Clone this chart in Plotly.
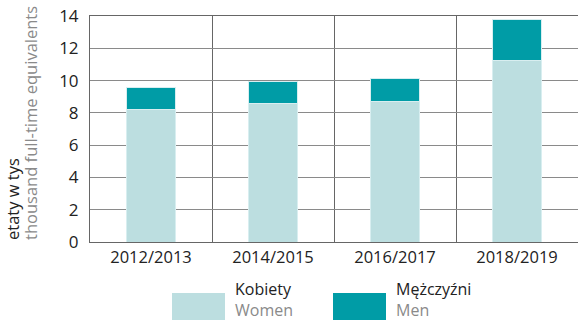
import plotly.graph_objects as go

# Academic staff, full-time equivalents (thousands)
years = ["2012/2013", "2014/2015", "2016/2017", "2018/2019"]
women = [8.18, 8.56, 8.68, 11.27]
men = [1.39, 1.40, 1.47, 2.53]

y_ticks = [0, 2, 4, 6, 8, 10, 12, 14]

c_women = "#bcdee0"
c_men = "#009ca6"
font = "Open Sans"

fig = go.Figure()
fig.add_trace(go.Bar(x=years, y=women, name="Kobiety", marker=dict(color=c_women, line=dict(color="#d8eef0", width=1)), width=0.4))
fig.add_trace(go.Bar(x=years, y=men, name="Mężczyźni", marker=dict(color=c_men, line=dict(color="#d8eef0", width=1)), width=0.4))

fig.update_layout(
    barmode="stack",
    width=578, height=321,
    margin=dict(l=90, r=0, t=16, b=79),
    plot_bgcolor="white", paper_bgcolor="white",
    showlegend=False,
    font=dict(family=font, size=16, color="#222"),
    xaxis=dict(
        tickson="boundaries", showgrid=True, gridcolor="#666", gridwidth=1,
        ticks="", tickfont=dict(size=16.5, color="#222"),
        showline=True, linecolor="#666", linewidth=1, mirror=True,
    ),
    yaxis=dict(
        range=[0, 14], tickvals=y_ticks, showgrid=True, gridcolor="#8a8a8a", gridwidth=1,
        ticks="", tickfont=dict(size=17, color="#222"), zeroline=False,
        showline=True, linecolor="#666", linewidth=1, ticklabelstandoff=7,
    ),
)

# rotated two-language axis title
fig.add_annotation(xref="paper", yref="paper", x=-78 / 488, y=0, xanchor="center", yanchor="bottom",
                   text="etaty w tys", textangle=-90, showarrow=False, font=dict(size=16.5, color="#222"))
fig.add_annotation(xref="paper", yref="paper", x=-60 / 488, y=0, xanchor="center", yanchor="bottom",
                   text="thousand full-time equivalents", textangle=-90, showarrow=False, font=dict(size=16.5, color="#8a8a8a"))

# legend: swatches with two-line bilingual labels
legend_items = [("Kobiety", "Women", c_women, 172), ("Mężczyźni", "Men", c_men, 333)]
for pl, en, col, x0 in legend_items:
    fig.add_shape(type="rect", xref="paper", yref="paper", layer="above",
                  x0=(x0 - 90) / 488, x1=(x0 + 53 - 90) / 488,
                  y0=(242 - 320) / 226, y1=(242 - 293) / 226,
                  fillcolor=col, line=dict(width=0))
    fig.add_annotation(xref="paper", yref="paper", x=(x0 + 62 - 90) / 488, y=(242 - 322) / 226,
                       xanchor="left", yanchor="bottom", align="left", showarrow=False, borderpad=0,
                       text=f"{pl}<br><span style='color:#8a8a8a'>{en}</span>",
                       font=dict(size=16, color="#222"))

fig.write_html("out.html")
